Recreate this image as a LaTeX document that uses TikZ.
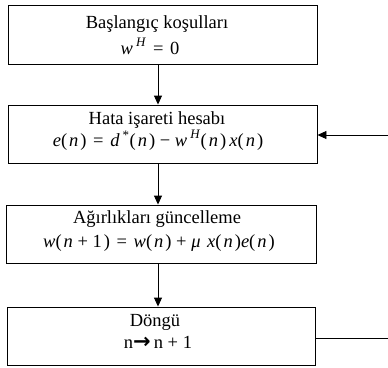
\documentclass[tikz,border=0pt]{standalone}
\usepackage{fontspec}
\setmainfont{Liberation Serif}
\newfontfamily\arrowfont{DejaVu Sans}
\usetikzlibrary{arrows.meta}
\newcommand\vi[1]{\textit{#1}}
\newcommand\pa[1]{(\kern2pt\relax#1\kern2pt\relax)}
\newcommand\sym[1]{\kern2pt\relax#1\kern2pt\relax}
\begin{document}
\begin{tikzpicture}[x=1pt,y=-1pt,
  box/.style={draw,line width=0.9pt,inner sep=0pt},
  txt/.style={anchor=base,inner sep=0pt,font=\fontsize{18.5}{22}\selectfont},
  link/.style={line width=0.9pt,-{Triangle[width=8pt,length=9pt]}},
  plain/.style={line width=0.9pt}]
\useasboundingbox (0,0) rectangle (388,367);
% boxes
\node[box,minimum width=309pt,minimum height=59pt] (b1) at (162.5,35) {};
\node[box,minimum width=309pt,minimum height=58pt] (b2) at (162.5,134) {};
\node[box,minimum width=310pt,minimum height=58pt] (b3) at (161,234) {};
\node[box,minimum width=308pt,minimum height=58pt] (b4) at (161.5,336) {};
% texts
\node[txt] (t1a) at (157,28) {Başlangıç koşulları};
\node[txt] (t1b) at (150,54) {\vi{w}\,\raisebox{1.5pt}{\textsuperscript{\vi{H}}} \sym{=} 0};
\node[txt] (t2a) at (157,124) {Hata işareti hesabı};
\node[txt] (t2b) at (158,146) {\vi{e}\pa{\vi{n}} \sym{=} \vi{d}\,\textsuperscript{*}\pa{\vi{n}} − \vi{w}\,\raisebox{1.5pt}{\textsuperscript{\vi{H}}}\pa{\vi{n}}\,\vi{x}\pa{\vi{n}}};
\node[txt] (t3a) at (157,223) {Ağırlıkları güncelleme};
\node[txt] (t3b) at (159,247) {\vi{w}\pa{\vi{n} + 1} \sym{=} \vi{w}\pa{\vi{n}} + \vi{μ}\kern2pt\relax{} \vi{x}\pa{\vi{n}}\vi{e}\pa{\vi{n}}};
\node[txt] (t4a) at (155,326) {Döngü};
\node[txt] (t4b) at (158,348) {n{\arrowfont\bfseries\fontsize{21}{22}\selectfont →}\kern3pt\relax n + 1};
% connectors
\coordinate (r4) at (388,338);
\coordinate (r2) at (388,135);
\draw[link] (b1.south -| 158,0) -- (b2.north -| 158,0);
\draw[link] (b2.south -| 158,0) -- (b3.north -| 158,0);
\draw[link] (b3.south -| 158,0) -- (b4.north -| 158,0);
\draw[plain] (b4.east |- r4) -- (r4);
\draw[link] (r2) -- (b2.east |- r2);
\end{tikzpicture}
\end{document}
